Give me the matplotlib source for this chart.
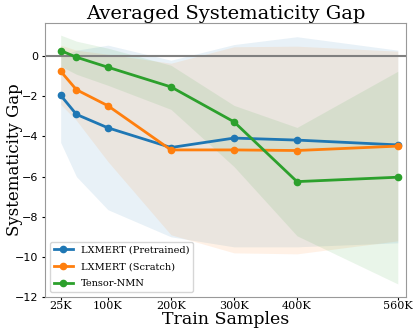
import matplotlib
matplotlib.use("Agg")
import matplotlib.pyplot as plt
import numpy as np

samples = [25, 50, 100, 200, 300, 400, 560]
tick_pos = [25, 100, 200, 300, 400, 560]
tick_labels = ["25K", "100K", "200K", "300K", "400K", "560K"]

names = ["LXMERT (Pretrained)", "LXMERT (Scratch)", "Tensor-NMN"]
pre_mean = [-1.95, -2.9, -3.57, -4.55, -4.08, -4.18, -4.42]
pre_low = [-4.3, -6.0, -7.65, -9.0, -9.5, -9.5, -9.3]
pre_high = [0.0, 0.3, 0.55, -0.2, 0.58, 0.97, 0.3]
scr_mean = [-0.75, -1.67, -2.47, -4.67, -4.67, -4.7, -4.48]
scr_low = [-2.4, -3.2, -5.25, -8.9, -9.8, -9.85, -9.2]
scr_high = [0.55, 0.3, 0.1, -0.35, 0.47, 0.5, 0.25]
nmn_mean = [0.28, -0.05, -0.55, -1.53, -3.27, -6.25, -6.03]
nmn_low = [-0.5, -0.9, -1.45, -2.65, -5.5, -8.95, -11.35]
nmn_high = [1.05, 0.75, 0.4, -0.45, -2.45, -3.55, -0.75]

means = [pre_mean, scr_mean, nmn_mean]
lows = [pre_low, scr_low, nmn_low]
highs = [pre_high, scr_high, nmn_high]
colors = ["#1f77b4", "#ff7f0e", "#2ca02c"]

fig = plt.figure(figsize=(4.16, 3.3), dpi=100)
ax = fig.add_axes([0.108, 0.10, 0.868, 0.83])

for m, lo, hi, c, n in zip(means, lows, highs, colors, names):
    ax.fill_between(samples, lo, hi, color=c, alpha=0.1, linewidth=0)
    ax.plot(samples, m, color=c, marker="o", markersize=4.5, linewidth=2, label=n)

ax.axhline(0, color="#808080", linewidth=1.5, zorder=1)

ax.set_xlim(0, 573)
ax.set_ylim(-12, 1.65)
ax.set_xticks(tick_pos)
ax.set_xticklabels(tick_labels, family="DejaVu Serif", fontsize=8)
ax.set_yticks([0, -2, -4, -6, -8, -10, -12])
ax.tick_params(axis="y", labelsize=8, length=2.5, pad=2)
ax.tick_params(axis="x", length=2, pad=1)
for s in ax.spines.values():
    s.set_color("#999999")

ax.set_title("Averaged Systematicity Gap", family="DejaVu Serif", fontsize=14, pad=2)
ax.set_ylabel("Systematicity Gap", family="DejaVu Serif", fontsize=12)
ax.yaxis.set_label_coords(-0.062, 0.5)
ax.set_xlabel("Train Samples", family="DejaVu Serif", fontsize=12.5, labelpad=0)
ax.legend(loc="lower left", prop={"family": "DejaVu Serif", "size": 7},
          labelspacing=0.8, borderaxespad=0.5)

fig.savefig("out.png", dpi=100)
